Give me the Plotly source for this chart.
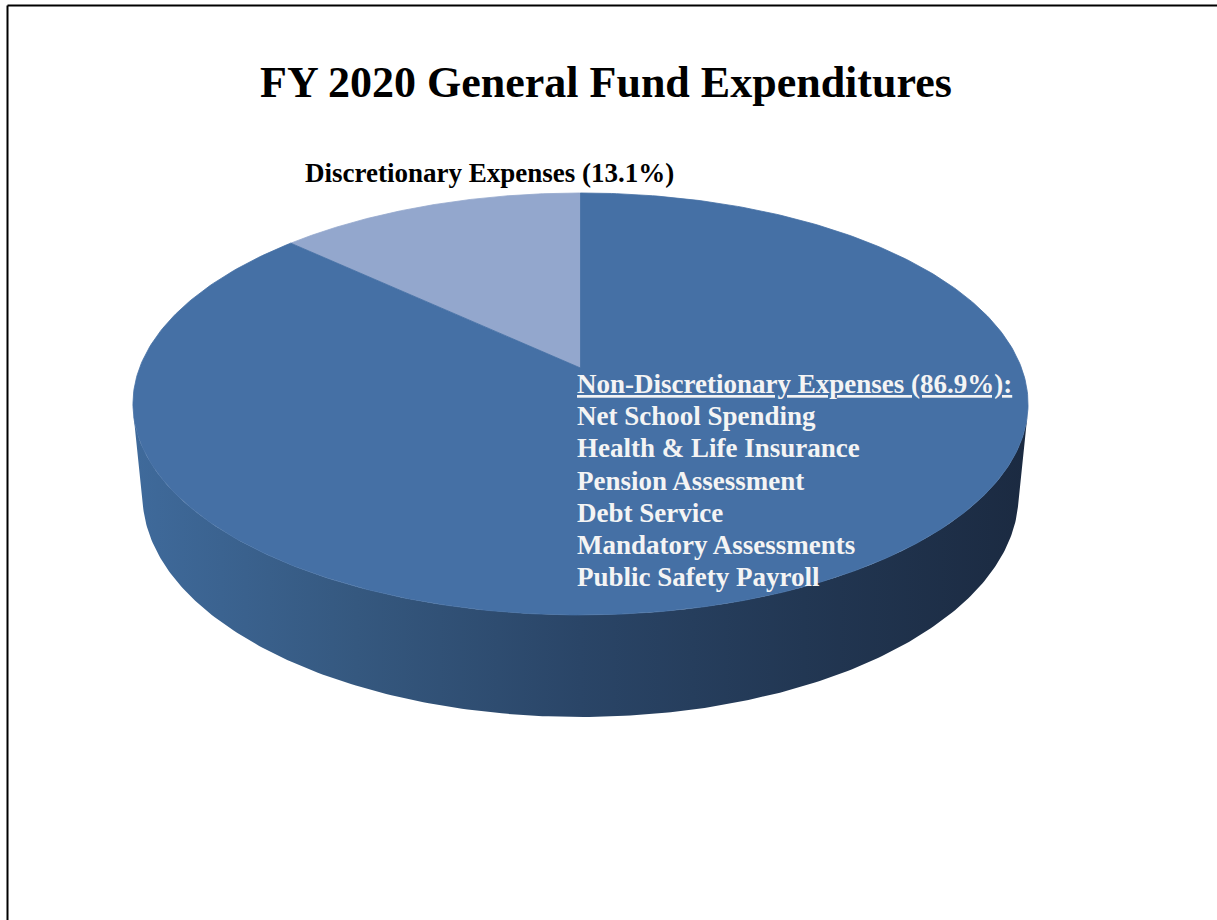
import numpy as np
import plotly.graph_objects as go

# ---- data -------------------------------------------------------------
categories = ["Discretionary Expenses", "Non-Discretionary Expenses"]
shares = [13.1, 86.9]
non_disc_items = [
    "Net School Spending",
    "Health & Life Insurance",
    "Pension Assessment",
    "Debt Service",
    "Mandatory Assessments",
    "Public Safety Payroll",
]
title_text = "FY 2020 General Fund Expenditures"

# ---- styling ----------------------------------------------------------
top_colors = ["#93a7cd", "#4570a5"]
side_scale = [
    [0.0, "#3f6a9b"],
    [0.25, "#35587f"],
    [0.5, "#2a4567"],
    [0.75, "#223753"],
    [1.0, "#1b2a41"],
]
FONT = "Liberation Serif, Times New Roman, serif"
W, H = 1217, 920

# perspective camera looking down on a unit disc
CX, CY = 580.5, 368.0        # screen position of disc centre
FOCAL = 2291.0
DIST = 5.195
TILT = np.radians(27.68)
THICK = 0.2355               # disc thickness relative to radius


def project(X, Y, Z):
    s, c = np.sin(TILT), np.cos(TILT)
    depth = DIST + Y * c - Z * s
    u = FOCAL * X / depth
    v = FOCAL * (Y * s + Z * c) / depth
    return CX + u, CY - v


def rim(a, z):
    # angle measured counter-clockwise from 12 o'clock
    return project(-np.sin(a), np.cos(a), np.full_like(a, z))


fig = go.Figure()

fractions = np.array(shares) / sum(shares)
bounds = np.concatenate([[0.0], np.cumsum(fractions)]) * 2 * np.pi

# visible side wall: where the outward normal faces the camera
y_sil = -1.0 / (DIST * np.cos(TILT))
a_sil = np.arccos(y_sil)
vis_lo, vis_hi = a_sil, 2 * np.pi - a_sil

for i, name in enumerate(categories):
    a0, a1 = bounds[i], bounds[i + 1]
    lo, hi = max(a0, vis_lo), min(a1, vis_hi)
    if hi > lo:
        a = np.linspace(lo, hi, 240)
        xt, yt = rim(a, 0.0)
        xb, yb = rim(a[::-1], -THICK)
        xs = np.concatenate([xt, xb, xt[:1]])
        ys = np.concatenate([yt, yb, yt[:1]])
        fig.add_trace(go.Scatter(
            x=xs, y=ys, mode="lines", fill="toself",
            line=dict(width=0, color="rgba(0,0,0,0)"),
            fillgradient=dict(type="horizontal", colorscale=side_scale,
                              start=float(xs.min()), stop=float(xs.max())),
            hoverinfo="skip", showlegend=False,
        ))

for i, name in enumerate(categories):
    a = np.linspace(bounds[i], bounds[i + 1], 400)
    xr, yr = rim(a, 0.0)
    cx0, cy0 = project(0.0, 0.0, 0.0)
    xs = np.concatenate([[cx0], xr, [cx0]])
    ys = np.concatenate([[cy0], yr, [cy0]])
    fig.add_trace(go.Scatter(
        x=xs, y=ys, mode="lines", fill="toself",
        fillcolor=top_colors[i],
        line=dict(width=0.8, color=top_colors[i]),
        name=name, hoverinfo="name", showlegend=False,
    ))

annotations = [
    dict(x=606, y=82, text=f"<b>{title_text}</b>", showarrow=False,
         xanchor="center", yanchor="middle",
         font=dict(family=FONT, size=44, color="#000000")),
    dict(x=489, y=173, text=f"<b>{categories[0]} ({shares[0]}%)</b>",
         showarrow=False, xanchor="center", yanchor="middle",
         font=dict(family=FONT, size=27, color="#000000")),
]
label_lines = [f"<u>{categories[1]} ({shares[1]}%):</u>"] + non_disc_items
for k, line in enumerate(label_lines):
    annotations.append(dict(
        x=575, y=384 + 32.2 * k, text=f"<b>{line}</b>", showarrow=False,
        xanchor="left", yanchor="middle",
        font=dict(family=FONT, size=27, color="#f4f4f4"),
    ))

fig.update_layout(
    width=W, height=H,
    margin=dict(l=0, r=0, t=0, b=0),
    paper_bgcolor="white", plot_bgcolor="white",
    xaxis=dict(range=[0, W], visible=False, fixedrange=True),
    yaxis=dict(range=[H, 0], visible=False, fixedrange=True),
    annotations=annotations,
    shapes=[
        dict(type="line", xref="paper", yref="paper",
             x0=7.5 / W, x1=1.0, y0=1 - 5.5 / H, y1=1 - 5.5 / H,
             line=dict(color="black", width=2)),
        dict(type="line", xref="paper", yref="paper",
             x0=7.5 / W, x1=7.5 / W, y0=1 - 5.5 / H, y1=0,
             line=dict(color="black", width=2)),
    ],
)

fig.write_html("out.html")
